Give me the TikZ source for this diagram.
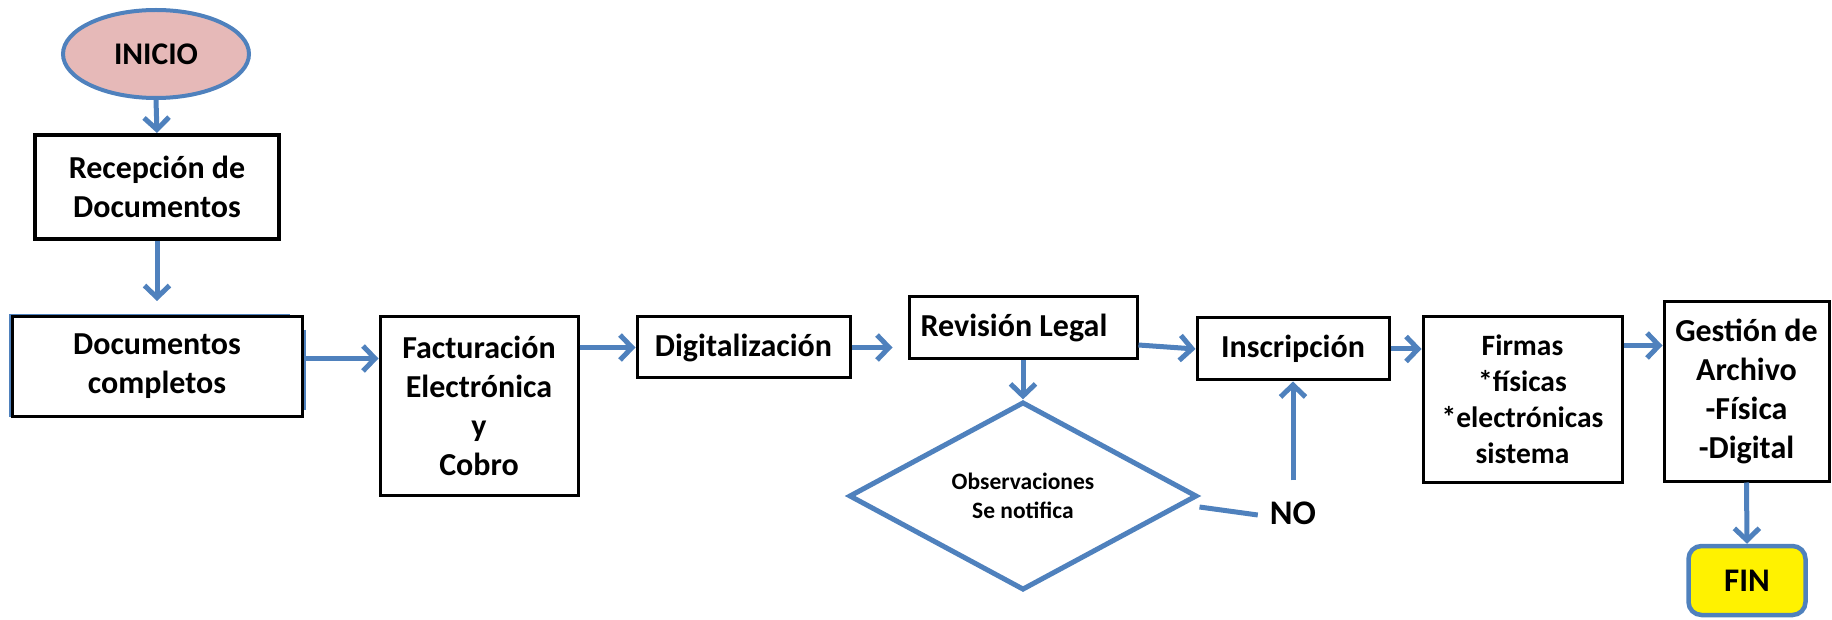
\documentclass[tikz,border=0pt]{standalone}
\usepackage{fontspec}
\setmainfont{Carlito}
\usetikzlibrary{shapes.geometric,arrows.meta}
\definecolor{ofblue}{HTML}{4F81BD}
\definecolor{pinkf}{HTML}{E6B9B8}
\begin{document}
\begin{tikzpicture}[x=1pt,y=-1pt,
  box/.style={draw=black, line width=3pt, fill=white, inner sep=0pt, align=center,
    font=\bfseries\fontsize{32}{39}\selectfont},
  arr/.style={draw=ofblue, line width=5pt, -{Straight Barb[length=12pt,width=25pt]}},
  plain/.style={draw=ofblue, line width=5pt},
]
\useasboundingbox (0,0) rectangle (1832,620);

% nodes
\node[ellipse, draw=ofblue, fill=pinkf, line width=4pt, inner sep=0pt,
  minimum width=186pt, minimum height=88pt,
  font=\bfseries\fontsize{31.5}{36}\selectfont] (ini) at (156,54) {INICIO};

\node[box, line width=4pt, minimum width=244pt, minimum height=104pt] (rec) at (157,187)
  {Recepción de\\Documentos};

\draw[ofblue, line width=2pt] (290,315) -- (10,315) -- (10,417);
\draw[ofblue, line width=2pt] (305,330) -- (305,410);
\node[box, minimum width=290pt, minimum height=100pt] (doc) at (157,366.5)
  {Documentos\\completos};

\node[box, minimum width=198pt, minimum height=178pt] (fac) at (479,406)
  {Facturación\\Electrónica\\y\\Cobro};

\node[box, minimum width=213pt, minimum height=61pt] (dig) at (743.5,347.5)
  {Digitalización};

\node[box, minimum width=228pt, minimum height=62pt] (rev) at (1023,328) {};
\node[font=\bfseries\fontsize{32}{39}\selectfont, inner sep=0pt] (revt) at (1014,328)
  {Revisión Legal};

\node[diamond, draw=ofblue, line width=5pt, fill=white, inner sep=0pt,
  minimum width=348pt, minimum height=188pt, align=center,
  font=\bfseries\fontsize{23.5}{29}\selectfont] (dia) at (1023,496)
  {Observaciones\\Se notifica};

\node[box, minimum width=192pt, minimum height=62pt] (ins) at (1293,349)
  {Inscripción};

\node[font=\bfseries\fontsize{34.5}{38}\selectfont, inner sep=0pt] (no) at (1293,513) {NO};

\node[box, minimum width=199pt, minimum height=165pt,
  font=\bfseries\fontsize{29.5}{36}\selectfont] (fir) at (1522.5,399.5)
  {Firmas\\*físicas\\*electrónicas\\sistema};

\node[box, minimum width=165pt, minimum height=179pt] (ges) at (1746.5,391.5)
  {Gestión de\\Archivo\\-Física\\-Digital};

\node[draw=ofblue, fill=yellow, line width=4.5pt, rounded corners=13pt, inner sep=0pt,
  minimum width=117pt, minimum height=69pt,
  font=\bfseries\fontsize{33}{36}\selectfont] (fin) at (1747,580.5) {FIN};

% connectors
\draw[arr] (ini.south) -- (rec.north);
\draw[arr, shorten >=14pt] (rec.south) -- (doc.north);
\draw[arr] ([yshift=8pt]doc.east) -- ([yshift=8pt]doc.east -| fac.west);
\draw[arr] (dig.west -| fac.east) -- (dig.west);
\draw[arr, shorten >=15pt] (dig.east) -- (dig.east -| rev.west);
\draw[arr] ([yshift=-17pt]rev.east) -- (ins.west);
\draw[arr] (rev.south) -- (dia.north);
\draw[plain] ([yshift=-11pt]dia.east) -- ([xshift=-12pt,yshift=-2pt]no.west);
\draw[arr] ([yshift=21pt]no.north) -- (ins.south);
\draw[arr] (ins.east) -- (ins.east -| fir.west);
\draw[arr] ([yshift=54pt]fir.east) -- ([yshift=54pt]fir.east -| ges.west);
\draw[arr] (ges.south) -- (fin.north);
\end{tikzpicture}
\end{document}
